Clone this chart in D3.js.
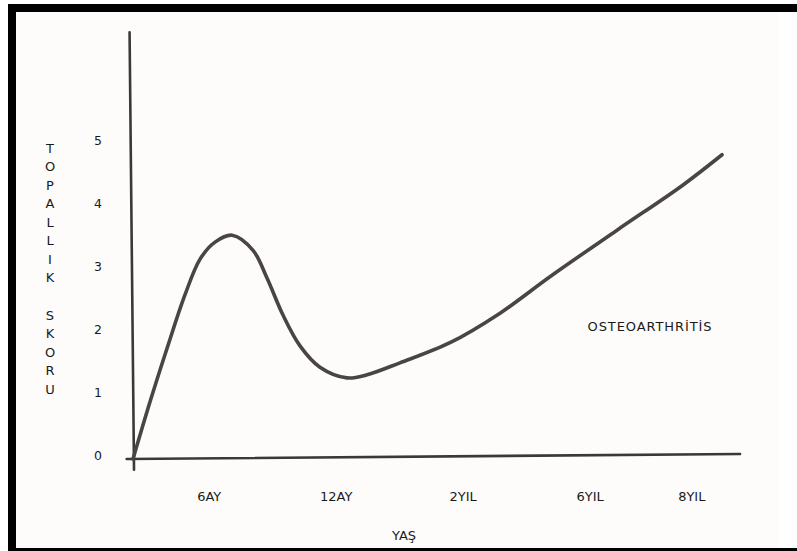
<!DOCTYPE html>
<html>
<head>
<meta charset="utf-8">
<script src="https://cdn.jsdelivr.net/npm/d3@7"></script>
<style>
  html, body { margin: 0; padding: 0; background: #ffffff; }
  svg { display: block; }
  text { font-family: "DejaVu Sans", sans-serif; fill: #1a1a1a; }
</style>
</head>
<body>
<svg id="chart" width="797" height="551"></svg>
<script>
// ---- data ----
const scoreTicks = [0, 1, 2, 3, 4, 5];
const ageLabels = ["6AY", "12AY", "2YIL", "6YIL", "8YIL"];
const ageTickAt = [0.6, 1.6, 2.6, 3.6, 4.4];          // position along the age axis (axis units)
const curveAge = [0, 0.134, 0.276, 0.409, 0.528, 0.646, 0.780, 0.945, 1.055, 1.181, 1.315, 1.472, 1.685,
                  1.843, 2.102, 2.496, 2.890, 3.283, 3.811, 4.331, 4.638];
const curveScore = [0, 0.91, 1.81, 2.61, 3.18, 3.45, 3.56, 3.32, 2.88, 2.29, 1.80, 1.46, 1.29,
                    1.34, 1.53, 1.85, 2.32, 2.90, 3.64, 4.36, 4.84];
const yTitle = "TOPALLIK SKORU";
const xTitle = "YAŞ";
const seriesLabel = "OSTEOARTHRİTİS";

// ---- layout ----
const svg = d3.select("#chart");
const W = 797, H = 551;

// frame / paper
svg.append("rect").attr("x", 0).attr("y", 0).attr("width", W).attr("height", H).attr("fill", "#ffffff");
svg.append("rect").attr("x", 8).attr("y", 4).attr("width", W - 8).attr("height", H - 4).attr("fill", "#000");
svg.append("rect").attr("x", 16).attr("y", 12).attr("width", 778 - 16).attr("height", 548 - 12).attr("fill", "#fdfcfa");
svg.append("rect").attr("x", 778).attr("y", 12).attr("width", W - 778).attr("height", 548 - 12).attr("fill", "#ffffff");

const x = d3.scaleLinear().domain([0, 5]).range([133, 768]);
const y = d3.scaleLinear().domain([0, 5]).range([459, 144.7]);

const line = d3.line().x(d => x(d[0])).y(d => y(d[1]));

// axes (hand-drawn plain lines)
const axisColor = "#3b3838";
svg.append("path")
  .attr("d", line([[-0.027, 6.79], [0.008, -0.17]]))
  .attr("stroke", axisColor).attr("stroke-width", 2.6).attr("fill", "none").attr("stroke-linecap", "round");
svg.append("path")
  .attr("d", line([[-0.05, 0], [4.78, 0.08]]))
  .attr("stroke", axisColor).attr("stroke-width", 2.6).attr("fill", "none").attr("stroke-linecap", "round");

// curve
const pts = curveAge.map((a, i) => [a, curveScore[i]]);
svg.append("path")
  .attr("d", d3.line().x(d => x(d[0])).y(d => y(d[1])).curve(d3.curveCatmullRom.alpha(0.5))(pts))
  .attr("stroke", "#4a4444").attr("stroke-width", 3.6).attr("fill", "none")
  .attr("stroke-linecap", "round").attr("stroke-linejoin", "round");

// y tick labels
svg.append("g").selectAll("text").data(scoreTicks).join("text")
  .attr("x", 98).attr("y", d => y(d) - 4)
  .attr("text-anchor", "middle").attr("dominant-baseline", "central")
  .attr("font-size", 12.5).text(d => d);

// x tick labels
svg.append("g").selectAll("text").data(ageLabels).join("text")
  .attr("x", (d, i) => x(ageTickAt[i])).attr("y", 496)
  .attr("text-anchor", "middle").attr("dominant-baseline", "central")
  .attr("font-size", 13).text(d => d);

// y title, letters stacked vertically
const letters = yTitle.split("");
svg.append("g").selectAll("text").data(letters).join("text")
  .attr("x", 50).attr("y", (d, i) => 148 + i * 18.57)
  .attr("text-anchor", "middle").attr("dominant-baseline", "central")
  .attr("font-size", 13).text(d => d);

// x title
svg.append("text").attr("x", 404).attr("y", 535)
  .attr("text-anchor", "middle").attr("dominant-baseline", "central")
  .attr("font-size", 13).text(xTitle);

// series label
svg.append("text").attr("x", 650).attr("y", 326)
  .attr("text-anchor", "middle").attr("dominant-baseline", "central")
  .attr("font-size", 13).attr("letter-spacing", 0.9).text(seriesLabel);
</script>
</body>
</html>
